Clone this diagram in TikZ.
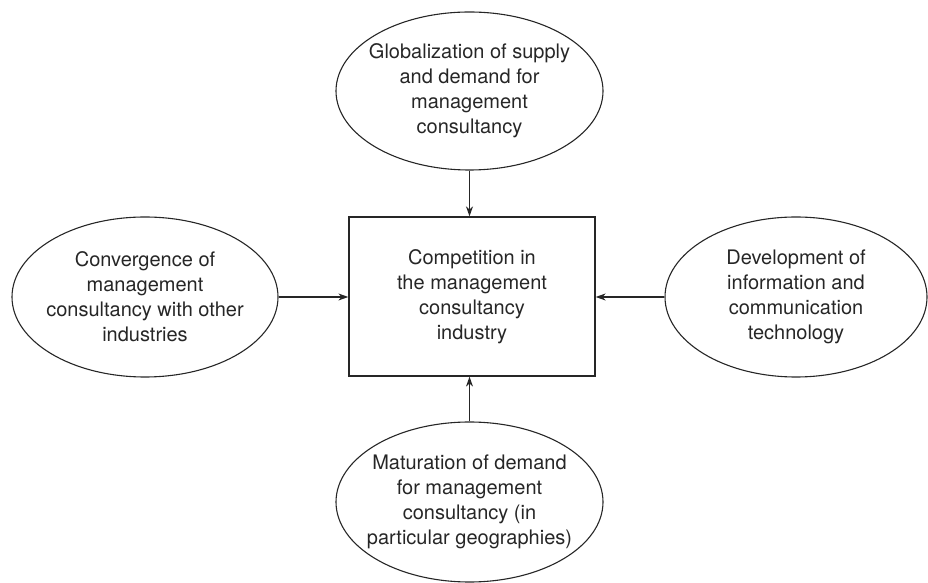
\documentclass[tikz,border=0pt]{standalone}
\usepackage{fontspec}
\setmainfont{TeX Gyre Heros}
\usetikzlibrary{shapes.geometric,arrows.meta}
\definecolor{ink}{HTML}{262626}
\begin{document}
\begin{tikzpicture}[x=1pt,y=1pt,
  oval/.style={draw=ink, line width=1.1pt, ellipse, inner sep=0pt},
  hub/.style={draw=ink, line width=1.3pt, rectangle, inner sep=0pt,
    minimum width=246pt, minimum height=159pt},
  txt/.style={text=ink, align=center, font=\fontsize{20}{25}\selectfont, inner sep=0pt},
  feed/.style={draw=ink, line width=1.2pt, -{Stealth[length=10pt,width=7pt]}}]
\useasboundingbox (0,0) rectangle (928,583);

% central box
\node[hub] (box) at (472,286.5) {};
\node[txt] at (box.center) {Competition in\\the management\\consultancy\\industry};

% surrounding drivers
\node[oval, minimum width=267pt, minimum height=158pt] (top) at (469.5,492) {};
\node[txt] at (top.center) {Globalization of supply\\and demand for\\management\\consultancy};

\node[oval, minimum width=266pt, minimum height=160pt] (left) at (145,286) {};
\node[txt] at (left.center) {Convergence of\\management\\consultancy with other\\industries};

\node[oval, minimum width=262pt, minimum height=160pt] (right) at (796,286) {};
\node[txt] at (right.center) {Development of\\information and\\communication\\technology};

\node[oval, minimum width=267pt, minimum height=160pt] (bottom) at (469.5,81) {};
\node[txt] at (bottom.center) {Maturation of demand\\for management\\consultancy (in\\particular geographies)};

% influences on competition
\draw[feed] (top.south) -- (top.south |- box.north);
\draw[feed] (left.east) -- (left.east -| box.west);
\draw[feed] (right.west) -- (right.west -| box.east);
\draw[feed] (bottom.north) -- (bottom.north |- box.south);
\end{tikzpicture}
\end{document}
